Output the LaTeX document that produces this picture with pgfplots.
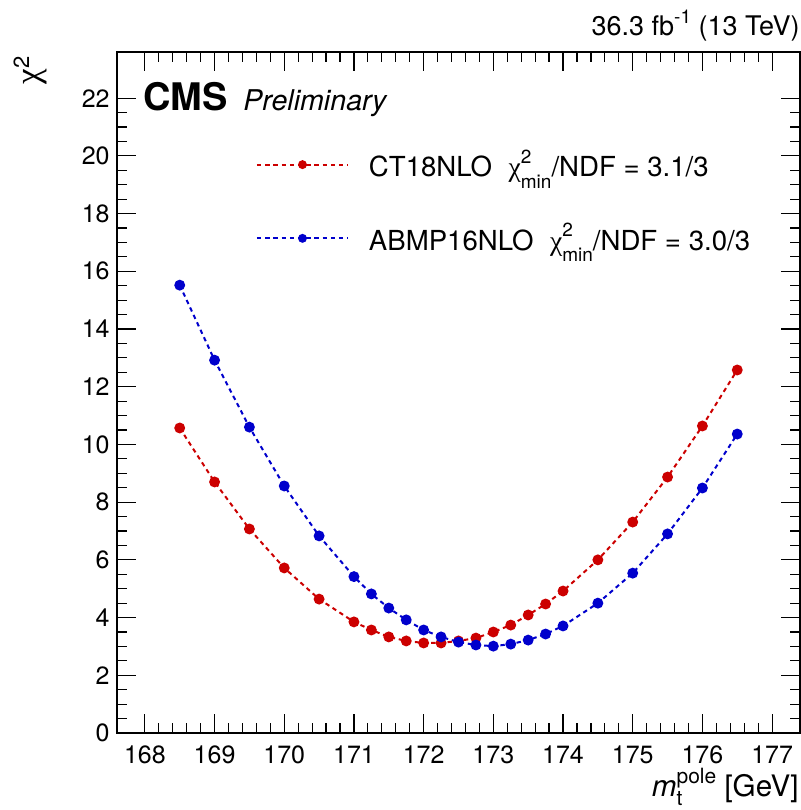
\documentclass[border=0pt]{standalone}
\usepackage{pgfplots}
\pgfplotsset{compat=1.18}
\usepackage{pgfplotstable}
\usepackage{fontspec}
\setmainfont{TeX Gyre Heros}
\newfontfamily\chifont{Liberation Serif}
\definecolor{cmsred}{RGB}{204,0,0}
\definecolor{cmsblue}{RGB}{0,0,204}
\newcommand{\fs}[1]{\fontsize{#1}{#1}\selectfont}
\newcommand{\chimin}{{\chifont χ}\rlap{\raisebox{0.48em}{\fs{9.5}2}}\raisebox{-0.42em}{\fs{9.5}min}}

\pgfplotstableread{
x      red    blue
168.5  10.57  15.52
169.0  8.70   12.92
169.5  7.07   10.60
170.0  5.72   8.56
170.5  4.64   6.83
171.0  3.85   5.42
171.25 3.57   4.82
171.5  3.33   4.33
171.75 3.19   3.92
172.0  3.12   3.57
172.25 3.12   3.33
172.5  3.19   3.15
172.75 3.29   3.05
173.0  3.50   3.01
173.25 3.74   3.08
173.5  4.09   3.22
173.75 4.47   3.43
174.0  4.92   3.71
174.5  6.00   4.50
175.0  7.31   5.54
175.5  8.87   6.90
176.0  10.64  8.49
176.5  12.58  10.36
}\chisq

\begin{document}
\begin{tikzpicture}
\path[use as bounding box] (-58.5pt,-38.5pt) rectangle (342pt,366.5pt);
\begin{axis}[
  scale only axis, width=341.5pt, height=340.5pt,
  xmin=167.6, xmax=177.4, ymin=0, ymax=23.6,
  clip mode=individual,
  xtick={168,...,177}, ytick={0,2,...,22},
  minor x tick num=4, minor y tick num=3,
  tick align=inside,
  major tick length=9.5pt, minor tick length=5pt,
  every tick/.append style={black, line width=0.6pt},
  axis line style={line width=0.9pt},
  /pgf/number format/assume math mode=true,
  /pgf/number format/1000 sep={},
  ticklabel style={font=\fs{12.5}},
  xticklabel style={inner sep=0pt, yshift=-6pt},
  yticklabel style={inner sep=0pt, xshift=-3.5pt},
  xlabel={{\itshape m}\rlap{\raisebox{-0.3em}{\fs{10.5}t}}\raisebox{0.45em}{\fs{10.5}pole} [GeV]},
  xlabel style={at={(axis description cs:0.9985,-0.093)}, anchor=base east, inner sep=0pt, font=\fs{14.8}},
  ylabel={{\chifont\fs{17.5}χ}\raisebox{0.5em}{\fs{11}2}},
  ylabel style={at={(axis description cs:-0.1274,0.994)}, anchor=east, inner sep=0pt},
  legend cell align=left,
  legend image code/.code={
    \draw[mark repeat=2,mark phase=2,#1,mark size=1.7pt] plot coordinates {(0pt,0pt) (22.75pt,0pt) (45.5pt,0pt)};
  },
  legend style={draw=none, fill=none, inner sep=0pt, outer sep=0pt,
    at={(axis description cs:0.2035,0.7805)}, anchor=west,
    row sep=22pt, column sep=10pt,
    nodes={inner sep=0pt, font=\fs{13.8}}},
]
\addplot[cmsred, line width=1pt, dash pattern=on 2.2pt off 1.9pt, mark=*, mark size=2.2pt, mark options={solid}] table[x=x,y=red]{\chisq};
\addlegendentry{CT18NLO\hspace{0.6em}\chimin/NDF = 3.1/3}
\addplot[cmsblue, line width=1pt, dash pattern=on 2.2pt off 1.9pt, mark=*, mark size=2.2pt, mark options={solid}] table[x=x,y=blue]{\chisq};
\addlegendentry{ABMP16NLO\hspace{0.6em}\chimin/NDF = 3.0/3}
\node[anchor=base west, inner sep=0pt, font=\fs{19}\bfseries] at (axis description cs:0.0381,0.9134) {CMS};
\node[anchor=base west, inner sep=0pt, font=\fs{14.3}\itshape] at (axis description cs:0.1845,0.9134) {Preliminary};
\node[anchor=base east, inner sep=0pt, font=\fs{13.5}] at (axis description cs:1,1.0235) {36.3 fb\raisebox{0.45em}{\fs{9.5}-1} (13 TeV)};
\end{axis}
\end{tikzpicture}
\end{document}
